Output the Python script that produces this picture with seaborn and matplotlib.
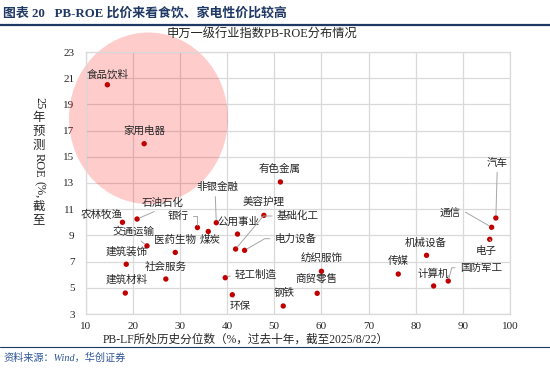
import matplotlib
matplotlib.use('Agg')
import pandas as pd
import seaborn as sns
import matplotlib.pyplot as plt
from matplotlib.patches import Ellipse
from matplotlib.lines import Line2D

# 申万一级行业: PB-LF historical percentile (x) vs 2025E ROE (y)
industries = ['食品饮料', '家用电器', '农林牧渔', '石油石化', '交通运输', '银行', '煤炭',
              '非银金融', '公用事业', '医药生物', '建筑装饰', '社会服务', '建筑材料', '轻工制造',
              '环保', '美容护理', '基础化工', '电力设备', '有色金属', '纺织服饰', '商贸零售',
              '钢铁', '传媒', '机械设备', '计算机', '国防军工', '汽车', '通信', '电子']
pb_pct = [14.6, 22.4, 17.8, 20.9, 23.0, 33.7, 36.0,
          37.7, 42.2, 29.0, 18.6, 27.0, 18.4, 39.6,
          41.1, 47.8, 41.8, 43.7, 51.3, 60.0, 59.1,
          51.9, 76.3, 82.3, 83.8, 86.9, 97.0, 96.1, 95.7]
roe = [20.5, 16.0, 10.0, 10.25, 8.2, 9.6, 9.3,
       9.97, 9.1, 7.7, 6.8, 5.67, 4.6, 5.77,
       4.47, 10.53, 7.96, 7.86, 13.08, 6.26, 4.58,
       3.61, 6.05, 7.48, 5.14, 5.52, 10.33, 9.62, 8.70]

xticks = [10, 20, 30, 40, 50, 60, 70, 80, 90, 100]
yticks = [3, 5, 7, 9, 11, 13, 15, 17, 19, 21, 23]

# label placement (data coords) and optional leader line: (x, y, relpos, connectionstyle)
label_pos = {
    '食品饮料': (14.6, 21.3, None, None),
    '家用电器': (22.5, 17.0, None, None),
    '农林牧渔': (13.3, 10.6, None, None),
    '石油石化': (26.4, 11.5, (0.5, 0), 'arc3'),
    '交通运输': (20.2, 9.28, (0.55, 0), 'arc3'),
    '银行': (29.6, 10.5, (1, 0.5), 'angle,angleA=0,angleB=90,rad=0'),
    '煤炭': (36.4, 8.65, None, None),
    '非银金融': (37.9, 12.7, (0.45, 0), 'arc3'),
    '公用事业': (42.4, 10.05, None, None),
    '医药生物': (29.0, 8.65, None, None),
    '建筑装饰': (18.6, 7.76, None, None),
    '社会服务': (27.0, 6.61, None, None),
    '建筑材料': (18.6, 5.6, None, None),
    '轻工制造': (46.1, 6.03, (0, 0.5), 'arc3'),
    '环保': (42.8, 3.56, (0.3, 1), 'arc3'),
    '美容护理': (47.8, 11.53, None, None),
    '基础化工': (55.0, 10.48, (0, 0.5), 'angle,angleA=180,angleB=50,rad=0'),
    '电力设备': (54.5, 8.75, (0, 0.5), 'angle,angleA=180,angleB=30,rad=0'),
    '有色金属': (51.1, 14.05, None, None),
    '纺织服饰': (60.1, 7.25, None, None),
    '商贸零售': (59.0, 5.6, None, None),
    '钢铁': (52.0, 4.58, None, None),
    '传媒': (76.2, 7.05, None, None),
    '机械设备': (82.2, 8.45, None, None),
    '计算机': (83.7, 6.1, None, None),
    '国防军工': (93.8, 6.53, (0, 0.5), 'angle,angleA=180,angleB=75,rad=0'),
    '汽车': (97.3, 14.55, (0.5, 0), 'arc3'),
    '通信': (87.3, 10.76, (1, 0.5), 'angle,angleA=0,angleB=150,rad=0'),
    '电子': (95.0, 7.83, (0.8, 1), 'arc3'),
}

df = pd.DataFrame({'行业': industries, 'PB分位': pb_pct, 'ROE': roe})

sns.set_theme(style='white')
plt.rcParams['font.family'] = ['Liberation Serif', 'Noto Sans CJK SC']
plt.rcParams['axes.unicode_minus'] = False

W, H = 550, 375
fig = plt.figure(figsize=(5.5, 3.75), dpi=100)
ax = fig.add_axes([85.7 / W, 1 - 314 / H, (510 - 85.7) / W, (314 - 52) / H])

navy = '#1F3864'
grid_c = '#d9d9d9'

# highlight ellipse round the consumer names
ell = Ellipse((23.3, 17.94), width=33.7, height=13.1, facecolor=(1, 0, 0, 0.2),
              edgecolor='none', clip_on=False, zorder=1)
ax.add_patch(ell)

sns.scatterplot(data=df, x='PB分位', y='ROE', color='#C00000', s=15, edgecolor='none',
                ax=ax, zorder=3, legend=False)

for name, xv, yv in zip(industries, pb_pct, roe):
    lx, ly, rel, cs = label_pos[name]
    if rel is None:
        ax.text(lx, ly, name, ha='center', va='center', fontsize=7.6, color='#262626', zorder=4)
    else:
        ax.annotate(name, xy=(xv, yv), xytext=(lx, ly), ha='center', va='center',
                    fontsize=7.6, color='#262626', zorder=4,
                    arrowprops=dict(arrowstyle='-', color='#a6a6a6', lw=0.7,
                                    relpos=rel, connectionstyle=cs,
                                    shrinkA=1, shrinkB=2))

ax.set_xlim(10, 100)
ax.set_ylim(3, 23)
ax.set_xticks(xticks)
ax.set_yticks(yticks)
ax.set_xticklabels([str(v) for v in xticks], fontsize=8)
ax.set_yticklabels([str(v) for v in yticks], fontsize=8)
ax.tick_params(length=0)
ax.tick_params(axis='x', pad=6)
ax.tick_params(axis='y', pad=8)
ax.grid(True, color=grid_c, lw=0.9)
ax.set_axisbelow(True)
for sp in ax.spines.values():
    sp.set_color(grid_c)
    sp.set_linewidth(0.9)
ax.set_xlabel('')
ax.set_ylabel('')

# chart title & axis labels
fig.text(262 / W, 1 - 35 / H, '申万一级行业指数PB-ROE分布情况', ha='center', va='center',
         fontsize=8.8, color='#262626')
fig.text(246 / W, 1 - 340 / H, 'PB-LF所处历史分位数（%，过去十年，截至2025/8/22）',
         ha='center', va='center', fontsize=8.4, color='#262626')

# vertical y label: CJK upright, latin runs rotated
fs_y = 8.9
em = fs_y * 100 / 72
parts = [('25', True), ('年', False), ('预', False), ('测', False), ('ROE', True),
         ('(%,', True), ('截', False), ('至', False)]
renderer = fig.canvas.get_renderer()
cur = 97.0
for s, rot in parts:
    if rot:
        t = fig.text(39 / W, 1 - cur / H, s, rotation=-90, ha='center', va='top',
                     fontsize=fs_y, color='#262626')
        bb = t.get_window_extent(renderer)
        cur += bb.height + 2.5
    else:
        fig.text(39 / W, 1 - (cur + em / 2) / H, s, ha='center', va='center',
                 fontsize=fs_y, color='#262626')
        cur += em + 1.5

# report header and footer
fig.text(3 / W, 1 - 13 / H, '图表 20   PB-ROE 比价来看食饮、家电性价比较高', ha='left',
         va='center', fontsize=9.3, fontweight='bold', color=navy)
fig.add_artist(Line2D([0, 1], [1 - 24.5 / H] * 2, color=navy, lw=1.6))
fig.add_artist(Line2D([0, 1], [1 - 347 / H] * 2, color=navy, lw=0.8))
fig.text(3 / W, 1 - 358 / H, '资料来源：Wind，华创证券', ha='left', va='center',
         fontsize=7.3, style='italic', color='#2E5597')

fig.savefig('out.png', dpi=100)
